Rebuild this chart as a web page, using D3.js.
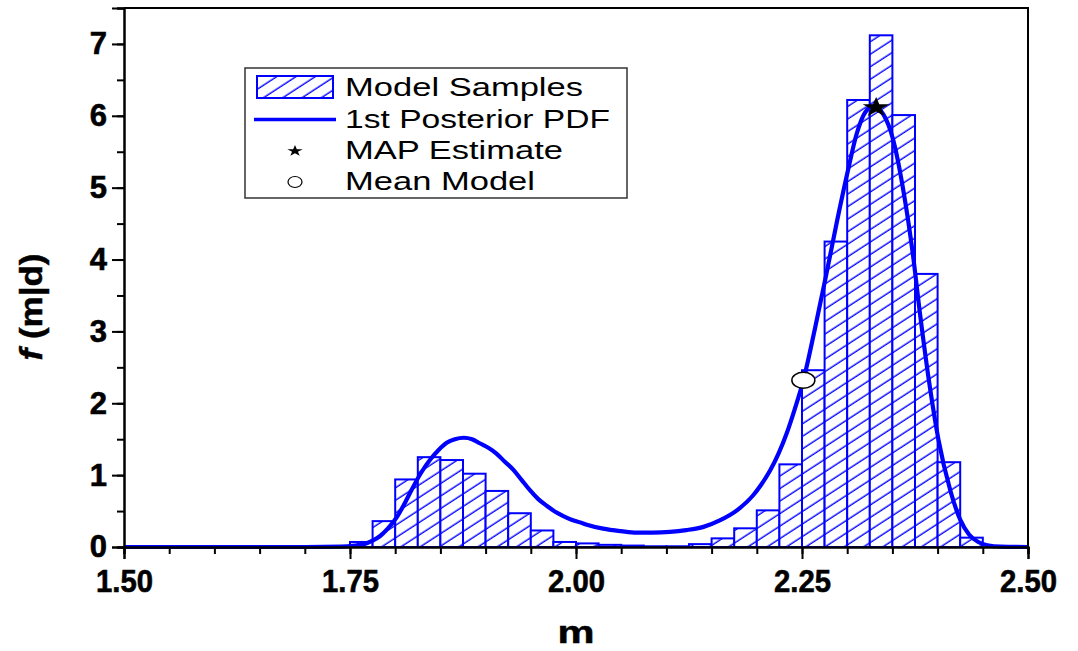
<!DOCTYPE html>
<html>
<head>
<meta charset="utf-8">
<script src="https://cdn.jsdelivr.net/npm/d3@7"></script>
<style>
  body { margin: 0; background: #fff; }
  svg { display: block; font-family: "Liberation Sans", Arial, sans-serif; }
</style>
</head>
<body>
<script>
// histogram of model samples: left edges of 0.025-wide bins and their density
const binStart = [1.75, 1.775, 1.8, 1.825, 1.85, 1.875, 1.9, 1.925, 1.95, 1.975,
    2.0, 2.025, 2.05, 2.075, 2.1, 2.125, 2.15, 2.175, 2.2, 2.225,
    2.25, 2.275, 2.3, 2.325, 2.35, 2.375, 2.4, 2.425]
const binHeight = [0.07, 0.36, 0.94, 1.25, 1.21, 1.02, 0.78, 0.47, 0.23, 0.07,
    0.05, 0.03, 0.02, 0.01, 0.01, 0.04, 0.12, 0.26, 0.51, 1.15,
    2.46, 4.25, 6.22, 7.12, 6.01, 3.80, 1.18, 0.13]
const binWidth = 0.025

// 1st posterior pdf
const pdfM = [1.5, 1.7, 1.74, 1.755, 1.765, 1.775, 1.783, 1.792, 1.802, 1.811,
    1.82, 1.829, 1.839, 1.848, 1.857, 1.866, 1.876, 1.885, 1.894, 1.903,
    1.912, 1.921, 1.931, 1.94, 1.949, 1.958, 1.968, 1.977, 1.986, 1.995,
    2.005, 2.012, 2.03, 2.05, 2.067, 2.085, 2.104, 2.122, 2.141, 2.159,
    2.178, 2.196, 2.205, 2.215, 2.224, 2.233, 2.242, 2.2515, 2.264, 2.277,
    2.289, 2.301, 2.3105, 2.32, 2.329, 2.34, 2.351, 2.362, 2.373, 2.3805,
    2.392, 2.401, 2.414, 2.425, 2.435, 2.445, 2.455, 2.47, 2.5]
const pdfF = [0, 0, 0.005, 0.02, 0.04, 0.09, 0.15, 0.26, 0.42, 0.62,
    0.84, 1.04, 1.22, 1.35, 1.45, 1.5, 1.52, 1.5, 1.44, 1.38,
    1.3, 1.19, 1.07, 0.93, 0.79, 0.67, 0.57, 0.49, 0.43, 0.38,
    0.34, 0.31, 0.255, 0.22, 0.2, 0.2, 0.21, 0.235, 0.28, 0.37,
    0.51, 0.72, 0.87, 1.07, 1.3, 1.58, 1.92, 2.32, 3.02, 3.8,
    4.55, 5.25, 5.75, 6.05, 6.13, 6.02, 5.66, 4.97, 4.04, 3.25,
    2.18, 1.49, 0.79, 0.38, 0.17, 0.07, 0.025, 0.005, 0]

const mapEstimate = [2.332, 6.13]
const meanModel = [2.2515, 2.32]

const xMajor = [1.5, 1.75, 2.0, 2.25, 2.5]
const yMajor = [0, 1, 2, 3, 4, 5, 6, 7]
const legendLabels = ["Model Samples", "1st Posterior PDF", "MAP Estimate", "Mean Model"]

const blue = "#0000ff"
const W = 1078, H = 651

const svg = d3.select("body").append("svg")
    .attr("width", W)
    .attr("height", H)

const x = d3.scaleLinear().domain([1.5, 2.5]).range([124, 1028])
const y = d3.scaleLinear().domain([0, 7.5]).range([547, 8])

// hatch pattern
const defs = svg.append("defs")
const pat = defs.append("pattern")
    .attr("id", "hatch")
    .attr("patternUnits", "userSpaceOnUse")
    .attr("width", 10)
    .attr("height", 10.5)
    .attr("patternTransform", "rotate(-33)")
pat.append("rect").attr("width", 10).attr("height", 10.5).attr("fill", "#fff")
pat.append("line")
    .attr("x1", 0).attr("x2", 10).attr("y1", 5).attr("y2", 5)
    .attr("stroke", blue).attr("stroke-width", 1.4)

// bars
svg.append("g")
    .selectAll("rect")
    .data(binStart)
    .join("rect")
    .attr("x", (d) => x(d))
    .attr("y", (d, i) => y(binHeight[i]))
    .attr("width", x(1.5 + binWidth) - x(1.5))
    .attr("height", (d, i) => y(0) - y(binHeight[i]))
    .attr("fill", "url(#hatch)")
    .attr("stroke", blue)
    .attr("stroke-width", 2)

// pdf curve
const line = d3.line()
    .x((d) => x(d[0]))
    .y((d) => y(d[1]))
    .curve(d3.curveMonotoneX)
svg.append("path")
    .datum(pdfM.map((m, i) => [m, pdfF[i]]))
    .attr("d", line)
    .attr("fill", "none")
    .attr("stroke", blue)
    .attr("stroke-width", 4.2)

// markers (picture is stretched sideways, so markers are too)
svg.append("ellipse")
    .attr("cx", x(meanModel[0]))
    .attr("cy", y(meanModel[1]))
    .attr("rx", 11.5)
    .attr("ry", 8)
    .attr("fill", "#fff")
    .attr("stroke", "#000")
    .attr("stroke-width", 1.5)
svg.append("path")
    .attr("d", d3.symbol(d3.symbolStar, 125)())
    .attr("transform", `translate(${x(mapEstimate[0])},${y(mapEstimate[1]) + 1}) scale(1.35,1)`)
    .attr("fill", "#000")

// axes
const axisStyle = (g) => {
    g.selectAll(".domain").attr("stroke", "#000").attr("stroke-width", 2)
    g.selectAll(".tick line").attr("stroke", "#000").attr("stroke-width", 2)
}
const labelStyle = (sel) => sel
    .attr("font-size", 31)
    .attr("font-weight", "bold")
    .attr("font-family", "Liberation Sans, Arial, sans-serif")
    .attr("fill", "#000")
    .attr("stroke", "#000")
    .attr("stroke-width", 0.6)
const xMinor = d3.range(0, 21).map((i) => 1.5 + i * 0.05)
const yMinor = d3.range(0, 16).map((i) => i * 0.5)

svg.append("g")
    .attr("transform", "translate(0,547)")
    .call(d3.axisBottom(x).tickValues(xMinor).tickSize(7).tickFormat(""))
    .call(axisStyle)
svg.append("g")
    .attr("transform", "translate(0,547)")
    .call(d3.axisBottom(x).tickValues(xMajor).tickSize(12).tickPadding(11)
        .tickFormat(d3.format(".2f")))
    .call(axisStyle)
    .selectAll("text")
    .call(labelStyle)
    .attr("textLength", 57)
    .attr("lengthAdjust", "spacingAndGlyphs")

svg.append("g")
    .attr("transform", "translate(124,0)")
    .call(d3.axisLeft(y).tickValues(yMinor).tickSize(7).tickFormat(""))
    .call(axisStyle)
svg.append("g")
    .attr("transform", "translate(124,0)")
    .call(d3.axisLeft(y).tickValues(yMajor).tickSize(12).tickPadding(5)
        .tickFormat(d3.format("d")))
    .call(axisStyle)
    .selectAll("text")
    .call(labelStyle)

// frame top and right
svg.append("path")
    .attr("d", `M${x(1.5)},${y(7.5)}H${x(2.5)}V${y(0)}`)
    .attr("fill", "none")
    .attr("stroke", "#000")
    .attr("stroke-width", 2)

// axis titles
svg.append("text")
    .attr("x", 576)
    .attr("y", 643)
    .attr("text-anchor", "middle")
    .attr("font-size", 32)
    .attr("font-weight", "bold")
    .attr("stroke", "#000")
    .attr("stroke-width", 0.5)
    .attr("textLength", 37)
    .attr("lengthAdjust", "spacingAndGlyphs")
    .text("m")

const yt = svg.append("text")
    .attr("transform", "translate(42,307) rotate(-90)")
    .attr("text-anchor", "middle")
    .attr("font-size", 32)
    .attr("font-weight", "bold")
    .attr("stroke", "#000")
    .attr("stroke-width", 0.5)
    .attr("textLength", 107)
    .attr("lengthAdjust", "spacingAndGlyphs")
yt.append("tspan").attr("font-style", "italic").text("f")
yt.append("tspan").text(" (m|d)")

// legend
const lg = svg.append("g")
lg.append("rect")
    .attr("x", 245).attr("y", 68)
    .attr("width", 382).attr("height", 130)
    .attr("fill", "#fff")
    .attr("stroke", "#333")
    .attr("stroke-width", 1.5)
lg.append("rect")
    .attr("x", 257).attr("y", 76)
    .attr("width", 76).attr("height", 22)
    .attr("fill", "url(#hatch)")
    .attr("stroke", blue)
    .attr("stroke-width", 2)
lg.append("line")
    .attr("x1", 254).attr("x2", 336)
    .attr("y1", 119.5).attr("y2", 119.5)
    .attr("stroke", blue)
    .attr("stroke-width", 3.5)
lg.append("path")
    .attr("d", d3.symbol(d3.symbolStar, 40)())
    .attr("transform", "translate(295,151) scale(1.35,1)")
    .attr("fill", "#000")
lg.append("ellipse")
    .attr("cx", 295).attr("cy", 182)
    .attr("rx", 7).attr("ry", 5.5)
    .attr("fill", "#fff")
    .attr("stroke", "#000")
    .attr("stroke-width", 1.2)

const legendY = [96, 128, 159, 190]
const legendLen = [238, 265, 218, 190]
lg.selectAll("text.lab")
    .data(legendLabels)
    .join("text")
    .attr("class", "lab")
    .attr("x", 345)
    .attr("y", (d, i) => legendY[i])
    .attr("font-size", 25)
    .attr("textLength", (d, i) => legendLen[i])
    .attr("lengthAdjust", "spacingAndGlyphs")
    .attr("fill", "#000")
    .text((d) => d)
</script>
</body>
</html>
